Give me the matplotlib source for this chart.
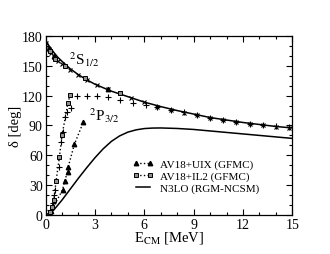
import matplotlib
matplotlib.use("Agg")
import matplotlib.pyplot as plt
from matplotlib.ticker import MultipleLocator

plt.rcParams["font.family"] = ["Liberation Serif", "DejaVu Serif"]
plt.rcParams["mathtext.fontset"] = "stix"

# N3LO (RGM-NCSM) curves
e_n3lo_s = [0, 0.25, 0.5, 0.75, 1, 1.5, 2, 2.5, 3, 3.5, 4, 5, 6, 7, 8, 9, 10, 11, 12, 13, 14, 15]
d_n3lo_s = [176, 169, 163.5, 158.5, 154.5, 147, 141, 136, 131.5, 128, 124.5, 119, 113.5, 109, 105,
            101.5, 98, 95.5, 93, 91, 89, 87.5]
e_n3lo_p = [0, 0.25, 0.5, 1, 1.5, 2, 2.5, 3, 3.5, 4, 4.5, 5, 5.5, 6, 6.5, 7, 8, 9, 10, 11, 12, 13, 14, 15]
d_n3lo_p = [0, 2, 5, 15, 26, 37, 47.5, 57.5, 66.5, 74, 79.5, 83.3, 85.6, 86.9, 87.4, 87.5, 87, 86,
            84.5, 83, 81.5, 80, 78.5, 77]

# AV18+UIX (GFMC)
e_uix_p = [0.35, 1.04, 1.16, 1.34, 1.38, 1.75, 2.3]
d_uix_p = [4, 25.5, 34, 43.5, 48.5, 71, 93.5]
e_uix_s = [0.2, 0.5, 3.8]
d_uix_s = [168, 160, 127]

# AV18+IL2 (GFMC)
e_il2_p = [0.3, 0.4, 0.5, 0.64, 0.84, 1.0, 1.36, 1.5]
d_il2_p = [3, 8, 15, 34, 58, 80, 112.6, 121]
e_il2_s = [0.3, 0.6, 1.2, 2.4, 4.5]
d_il2_s = [165, 157, 150, 137.5, 123]

# unlabeled data points
e_plus = [0.3, 0.44, 0.5, 0.6, 0.8, 0.96, 1.06, 1.16, 1.3, 1.56, 1.9, 2.5, 3.1, 3.8, 4.5, 5.3,
          6.1, 6.8, 7.6, 8.4, 9.2, 10.0, 10.8, 11.6, 12.4, 13.2, 14.0, 14.8]
d_plus = [5, 12, 20, 25, 48, 73.5, 83.5, 98.5, 104, 108, 120, 120, 119.5, 119, 116, 113, 111,
          109, 106, 103.5, 100.5, 98, 96, 93, 91.5, 90, 89, 88]
e_cross = [0.05, 0.2, 0.35, 0.5, 0.74, 1.0, 1.5, 2.0, 2.5, 3.1, 3.8, 4.5, 5.2, 6.0, 6.8, 7.6,
           8.4, 9.2, 10.0, 10.8, 11.6, 12.4, 13.2, 14.0, 14.8]
d_cross = [173, 167, 163, 159, 155, 152, 146, 141, 136, 131, 127, 123, 118, 114, 109, 105.5,
           103, 100.5, 97.5, 96, 93.5, 91.5, 90, 88.5, 87.5]

fig = plt.figure(figsize=(3.3, 2.55), dpi=100)
ax = fig.add_axes([0.138, 0.153, 0.748, 0.702])

ax.plot(e_n3lo_s, d_n3lo_s, "-", color="black", lw=1.1)
l3, = ax.plot(e_n3lo_p, d_n3lo_p, "-", color="black", lw=1.1, label="N3LO (RGM-NCSM)")

ax.plot(e_plus, d_plus, "+", color="black", ms=4.5, mew=0.8)
ax.plot(e_cross, d_cross, "x", color="black", ms=3.2, mew=0.8)

l1, = ax.plot(e_uix_p, d_uix_p, ":^", color="black", lw=1, ms=3.2, label="AV18+UIX (GFMC)")
ax.plot(e_uix_s, d_uix_s, "^", color="black", ms=3.2)
l2, = ax.plot(e_il2_p, d_il2_p, ":s", color="black", lw=1, ms=3, mfc="#909090", mew=0.7,
              label="AV18+IL2 (GFMC)")
ax.plot(e_il2_s, d_il2_s, "s", color="black", ms=3, mfc="#909090", mew=0.7)

ax.text(1.45, 157, r"$^{2}$S$_{1/2}$", fontsize=11, va="center", ha="left")
ax.text(2.65, 101, r"$^{2}$P$_{3/2}$", fontsize=11, va="center", ha="left")

ax.set_xlim(0, 15)
ax.set_ylim(0, 180)
ax.xaxis.set_major_locator(MultipleLocator(3))
ax.xaxis.set_minor_locator(MultipleLocator(1))
ax.yaxis.set_major_locator(MultipleLocator(30))
ax.yaxis.set_minor_locator(MultipleLocator(10))
ax.tick_params(which="both", direction="in", top=True, right=True, labelsize=10, pad=2)
ax.tick_params(which="major", length=4, width=0.8)
ax.tick_params(which="minor", length=2, width=0.8)
for s in ax.spines.values():
    s.set_linewidth(0.9)

ax.set_xlabel(r"E$_{\rm CM}$ [MeV]", fontsize=10.5, labelpad=-1)
ax.set_ylabel(r"δ [deg]", fontsize=10.5, labelpad=0)

ax.legend(handles=[l1, l2, l3], loc="center left", bbox_to_anchor=(0.33, 0.218),
          frameon=False, fontsize=8, borderpad=0, handlelength=1.9, handletextpad=0.6,
          labelspacing=0.15, numpoints=2)

fig.savefig("out.png", dpi=100)
